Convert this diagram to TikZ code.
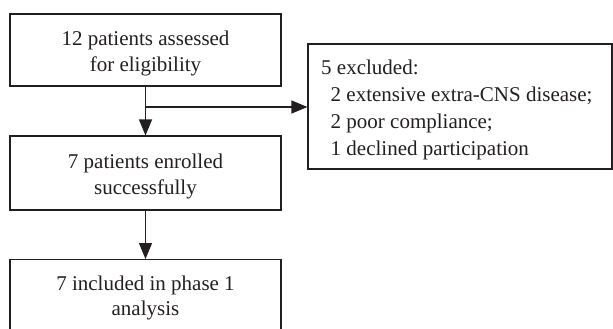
\documentclass[tikz,border=0pt]{standalone}
\usepackage{fontspec}
\setmainfont{Liberation Serif}
\usetikzlibrary{arrows.meta}
\definecolor{lc}{HTML}{231F20}
\begin{document}
\begin{tikzpicture}[x=1pt,y=-1pt,
  box/.style={draw=lc, line width=1.1pt, minimum width=271pt, inner sep=0pt},
  txt/.style={font=\fontsize{21}{26}\selectfont, align=center, text=lc, inner sep=0pt},
  arr/.style={draw=lc, line width=1.1pt, -{Triangle[length=16pt,width=13pt]}}]
\clip (0,0) rectangle (613,329);
\node[box, minimum height=72pt] (a) at (145.5,50) {};
\node[txt] (at) at (145.5,53.5) {12 patients assessed\\for eligibility};
\node[box, minimum height=74pt] (b) at (145.5,173) {};
\node[txt] (bt) at (145.5,176.5) {7 patients enrolled\\successfully};
\node[box, minimum height=80pt, anchor=north] (c) at (145.5,259) {};
\node[txt, font=\fontsize{21}{25}\selectfont, anchor=north] (ct) at (145.5,276) {7 included in phase 1\\analysis};
\node[draw=lc, line width=1.1pt, minimum width=304pt, minimum height=125pt, inner sep=0pt] (ex) at (460,106.5) {};
\node[txt, font=\fontsize{21}{27}\selectfont, align=left, anchor=west] (ext) at (321,109.5)
  {5 excluded:\\\hspace*{9.5pt}2 extensive extra-CNS disease;\\\hspace*{9.5pt}2 poor compliance;\\\hspace*{9.5pt}1 declined participation};
\coordinate (j) at (145.5,107);
\draw[arr] (a.south) -- (b.north);
\draw[arr] (j) -- (j -| ex.west);
\draw[arr] (b.south) -- (c.north);
\end{tikzpicture}
\end{document}
